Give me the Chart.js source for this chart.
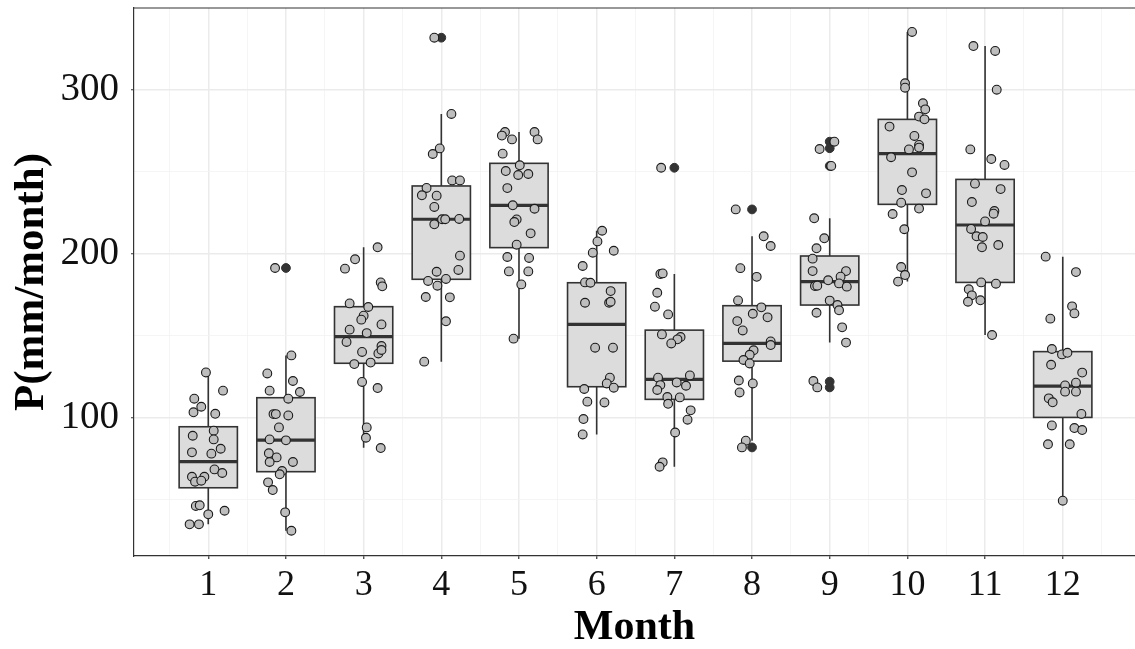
<!DOCTYPE html>
<html>
<head>
<meta charset="utf-8">
<script src="https://cdn.jsdelivr.net/npm/chart.js@4"></script>
<style>
  html, body { margin: 0; padding: 0; background: #fff; }
  #wrap { width: 1135px; height: 649px; }
</style>
</head>
<body>
<div id="wrap"><canvas id="precipChart" width="1135" height="649"></canvas></div>
<script>
// Monthly precipitation, box summaries per month
var months = [1, 2, 3, 4, 5, 6, 7, 8, 9, 10, 11, 12];
var q1 =          [57.3, 67.1, 133.2, 184.4, 203.7, 118.9, 111.2, 134.5, 168.7, 230.1, 182.5, 100.2];
var median =      [73.2, 86.4, 149.4, 221.0, 229.5, 156.9, 123.4, 145.3, 183.0, 261.0, 217.5, 119.3];
var q3 =          [94.5, 112.2, 167.7, 241.3, 255.1, 182.3, 153.4, 168.3, 198.6, 281.9, 245.3, 140.3];
var whiskerLow =  [35.0, 31.1, 81.7, 134.2, 148.2, 89.8, 70.1, 86.0, 145.8, 183.0, 150.4, 49.4];
var whiskerHigh = [127.6, 138.0, 203.9, 285.2, 274.2, 214.0, 187.6, 210.6, 221.6, 335.2, 326.6, 198.2];
var outliers = [[], [191.3], [], [331.7], [], [], [252.4], [227.0, 81.9],
                [268.3, 264.3, 253.5, 122.0, 118.5], [], [], []];

// Individual observations (mm/month) and their horizontal jitter
var precip = [
  [127.6, 116.5, 111.6, 106.7, 103.3, 102.4, 92.1, 89.0, 86.8, 81.1, 78.9, 78.1, 68.5, 66.3, 64.0, 64.0, 61.0, 61.6, 46.2, 46.6, 41.1, 43.3, 35.0, 35.0],
  [191.3, 138.0, 127.0, 122.4, 116.5, 115.7, 111.6, 102.2, 102.2, 101.4, 94.1, 86.8, 86.2, 78.3, 75.8, 73.0, 73.0, 67.5, 65.5, 60.6, 55.9, 42.3, 31.1],
  [203.9, 196.6, 190.9, 182.5, 180.1, 169.7, 167.5, 162.2, 159.8, 156.9, 153.7, 151.6, 146.2, 143.7, 140.1, 139.2, 141.3, 132.7, 133.6, 121.8, 118.1, 94.1, 87.8, 81.5],
  [331.7, 285.2, 264.2, 260.8, 244.7, 244.7, 240.1, 235.6, 235.4, 228.5, 221.0, 221.0, 221.2, 217.9, 198.8, 189.0, 190.1, 183.4, 184.6, 180.5, 173.6, 173.4, 158.8, 134.2],
  [274.2, 272.0, 269.7, 274.2, 269.7, 261.0, 253.9, 250.4, 248.0, 248.6, 240.0, 229.5, 227.4, 220.9, 219.3, 212.4, 205.5, 198.0, 197.4, 189.2, 189.2, 181.3, 148.2],
  [214.0, 207.5, 201.8, 200.6, 192.5, 182.5, 182.3, 177.2, 170.1, 170.1, 170.7, 142.7, 142.7, 124.4, 120.9, 118.3, 117.5, 109.8, 109.3, 99.2, 89.8],
  [252.4, 187.6, 188.0, 176.2, 167.7, 163.0, 150.8, 149.2, 147.8, 145.3, 124.4, 125.8, 121.5, 119.9, 119.5, 116.9, 112.6, 112.4, 108.5, 104.5, 98.8, 91.0, 72.8, 70.1],
  [227.0, 210.6, 204.7, 191.2, 185.9, 171.5, 167.3, 163.4, 161.2, 158.9, 153.2, 146.5, 144.3, 141.1, 138.4, 135.2, 133.1, 122.7, 120.9, 115.4, 86.0, 81.9],
  [263.8, 268.3, 253.5, 221.6, 209.4, 203.3, 197.0, 189.4, 189.4, 186.0, 183.8, 181.9, 179.9, 180.3, 180.5, 171.4, 168.7, 164.0, 165.5, 155.1, 145.8, 122.4, 118.5],
  [335.2, 303.9, 301.2, 291.7, 288.0, 283.6, 281.9, 277.5, 271.8, 266.3, 264.7, 263.6, 258.8, 249.6, 238.8, 236.8, 231.1, 227.5, 224.2, 214.9, 191.9, 187.0, 183.0],
  [326.6, 323.6, 300.0, 263.6, 257.7, 254.1, 242.7, 239.4, 231.5, 226.0, 224.4, 219.7, 215.1, 210.6, 210.2, 205.3, 203.9, 182.5, 181.7, 178.3, 174.6, 170.7, 171.6, 150.4],
  [198.2, 188.8, 167.9, 163.6, 160.4, 141.9, 138.6, 139.6, 132.3, 127.5, 119.7, 121.4, 115.9, 115.9, 111.8, 109.4, 102.3, 95.3, 93.7, 92.5, 83.8, 83.8, 49.4]
];
var jitter = [
  [-0.03, 0.19, -0.18, -0.09, -0.19, 0.09, 0.07, -0.20, 0.07, 0.16, -0.21, 0.04, 0.08, 0.18, -0.21, -0.05, -0.17, -0.09, -0.16, -0.11, 0.00, 0.21, -0.24, -0.12],
  [-0.14, 0.07, -0.24, 0.09, -0.21, 0.18, 0.03, -0.16, -0.13, 0.03, -0.09, -0.21, 0.00, -0.22, -0.12, -0.21, 0.09, -0.05, -0.08, -0.23, -0.17, -0.01, 0.07],
  [0.18, -0.11, -0.24, 0.22, 0.24, -0.18, 0.06, 0.00, -0.03, 0.23, -0.18, 0.04, -0.22, 0.23, -0.02, 0.19, 0.23, -0.12, 0.09, -0.02, 0.18, 0.04, 0.03, 0.22],
  [-0.09, 0.13, -0.02, -0.11, 0.14, 0.24, -0.19, -0.25, -0.06, -0.09, 0.01, 0.05, 0.23, -0.09, 0.24, -0.06, 0.22, -0.17, 0.06, -0.05, -0.20, 0.11, 0.06, -0.22],
  [-0.18, -0.22, -0.09, 0.20, 0.24, -0.21, 0.01, -0.17, -0.01, 0.12, -0.15, -0.08, 0.20, -0.03, -0.06, 0.15, -0.03, -0.15, 0.13, -0.13, 0.12, 0.03, -0.07],
  [0.07, 0.01, 0.22, -0.05, -0.18, -0.15, -0.08, 0.18, -0.15, 0.16, 0.18, -0.02, 0.21, 0.17, 0.13, 0.22, -0.16, -0.12, 0.10, -0.17, -0.18],
  [-0.17, -0.18, -0.15, -0.22, -0.25, -0.08, -0.16, 0.08, 0.04, -0.04, -0.21, 0.20, 0.03, -0.18, 0.15, -0.22, -0.09, 0.07, -0.08, 0.21, 0.17, 0.01, -0.15, -0.19],
  [-0.21, 0.15, 0.24, -0.15, 0.06, -0.18, 0.12, 0.01, 0.20, -0.19, -0.12, 0.24, 0.24, 0.02, -0.03, -0.11, -0.03, -0.17, 0.01, -0.16, -0.08, -0.13],
  [-0.13, 0.06, 0.02, -0.20, -0.07, -0.17, -0.22, -0.22, 0.21, 0.14, -0.02, 0.12, 0.22, -0.19, -0.16, 0.00, 0.10, -0.17, 0.12, 0.16, 0.21, -0.21, -0.16],
  [0.06, -0.03, -0.03, 0.20, 0.23, 0.15, 0.22, -0.23, 0.09, 0.15, 0.15, 0.02, -0.21, 0.06, -0.07, 0.24, -0.08, 0.15, -0.19, -0.04, -0.08, -0.03, -0.12],
  [-0.15, 0.13, 0.15, -0.19, 0.08, 0.25, -0.13, 0.20, -0.17, 0.12, 0.11, 0.00, -0.18, -0.11, -0.03, 0.17, -0.04, -0.05, 0.14, -0.21, -0.17, -0.22, -0.06, 0.09],
  [-0.22, 0.17, 0.12, 0.15, -0.16, -0.14, -0.01, 0.06, -0.15, 0.25, 0.03, 0.17, 0.03, 0.17, -0.18, -0.13, 0.24, -0.14, 0.15, 0.25, -0.19, 0.09, 0.00]
];
var xTicks = [0.5, 1, 1.5, 2, 2.5, 3, 3.5, 4, 4.5, 5, 5.5, 6, 6.5, 7, 7.5, 8, 8.5, 9, 9.5, 10, 10.5, 11, 11.5, 12, 12.5];
var yTicks = [50, 100, 150, 200, 250, 300];

var serif = "'Liberation Serif', 'Times New Roman', serif";
var boxHalf = 0.375;

var obsPoints = [];
months.forEach(function(m, i) {
    precip[i].forEach(function(v, j) {
        obsPoints.push({ x: m + jitter[i][j], y: v });
    });
});
var outlierPoints = [];
months.forEach(function(m, i) {
    outliers[i].forEach(function(v) { outlierPoints.push({ x: m, y: v }); });
});

// Boxes, whiskers and medians under the points
var boxPlugin = {
    id: 'boxes',
    beforeDatasetsDraw: function(chart) {
        var ctx = chart.ctx, x = chart.scales.x, y = chart.scales.y;
        ctx.save();
        ctx.strokeStyle = '#333333';
        months.forEach(function(m, i) {
            var cx = x.getPixelForValue(m);
            var l = x.getPixelForValue(m - boxHalf), r = x.getPixelForValue(m + boxHalf);
            var top = y.getPixelForValue(q3[i]), bot = y.getPixelForValue(q1[i]);
            ctx.lineWidth = 1.6;
            ctx.beginPath();
            ctx.moveTo(cx, y.getPixelForValue(whiskerHigh[i]));
            ctx.lineTo(cx, top);
            ctx.moveTo(cx, bot);
            ctx.lineTo(cx, y.getPixelForValue(whiskerLow[i]));
            ctx.stroke();
            ctx.fillStyle = '#DCDCDC';
            ctx.fillRect(l, top, r - l, bot - top);
            ctx.strokeRect(l, top, r - l, bot - top);
            var my = y.getPixelForValue(median[i]);
            ctx.lineWidth = 3.2;
            ctx.beginPath();
            ctx.moveTo(l, my);
            ctx.lineTo(r, my);
            ctx.stroke();
        });
        ctx.restore();
    },
    afterDraw: function(chart) {
        // panel top edge
        var ctx = chart.ctx, a = chart.chartArea;
        ctx.save();
        ctx.strokeStyle = '#333333';
        ctx.lineWidth = 1.2;
        ctx.beginPath();
        ctx.moveTo(a.left, a.top);
        ctx.lineTo(a.right, a.top);
        ctx.stroke();
        ctx.restore();
    }
};

function isMajor(v) { return Number.isInteger(v); }

new Chart(document.getElementById('precipChart'), {
    type: 'scatter',
    data: {
        datasets: [
            {
                label: 'obs',
                data: obsPoints,
                pointRadius: 4.4,
                pointBackgroundColor: '#BEBEBE',
                pointBorderColor: '#1A1A1A',
                pointBorderWidth: 1.1
            },
            {
                label: 'outliers',
                data: outlierPoints,
                pointRadius: 4.4,
                pointBackgroundColor: '#333333',
                pointBorderColor: '#333333',
                pointBorderWidth: 1
            }
        ]
    },
    options: {
        responsive: false,
        animation: false,
        devicePixelRatio: 1,
        layout: { autoPadding: false, padding: { top: 8, right: 0, left: 0, bottom: 0 } },
        plugins: { legend: { display: false }, tooltip: { enabled: false } },
        scales: {
            x: {
                type: 'linear',
                min: 0.044,
                max: 12.93,
                afterBuildTicks: function(s) { s.ticks = xTicks.map(function(v) { return { value: v }; }); },
                afterFit: function(s) { s.height = 93; s.paddingLeft = 0; s.paddingRight = 0; },
                ticks: {
                    autoSkip: false, maxRotation: 0, padding: 5, color: '#111',
                    font: { family: serif, size: 36 },
                    callback: function(v) { return isMajor(v) ? String(v) : ''; }
                },
                grid: {
                    color: function(c) { return isMajor(c.tick.value) ? '#EBEBEB' : '#F3F3F3'; },
                    lineWidth: function(c) { return isMajor(c.tick.value) ? 1.5 : 0.8; },
                    tickColor: function(c) { return isMajor(c.tick.value) ? '#333333' : 'rgba(0,0,0,0)'; },
                    tickLength: 3,
                    tickWidth: 1.2
                },
                border: { display: true, color: '#333333', width: 1.2 },
                title: {
                    display: true, text: 'Month', color: '#000', padding: 0,
                    font: { family: serif, size: 42, weight: 'bold', lineHeight: 1 }
                }
            },
            y: {
                min: 15.7,
                max: 349.8,
                afterBuildTicks: function(s) { s.ticks = yTicks.map(function(v) { return { value: v }; }); },
                afterFit: function(s) { s.width = 134; s.paddingTop = 0; s.paddingBottom = 0; },
                ticks: {
                    padding: 12, color: '#111',
                    font: { family: serif, size: 39 },
                    callback: function(v) { return v % 100 === 0 ? String(v) : ''; }
                },
                grid: {
                    color: function(c) { return c.tick.value % 100 === 0 ? '#EBEBEB' : '#F3F3F3'; },
                    lineWidth: function(c) { return c.tick.value % 100 === 0 ? 1.5 : 0.8; },
                    tickColor: function(c) { return c.tick.value % 100 === 0 ? '#333333' : 'rgba(0,0,0,0)'; },
                    tickLength: 3,
                    tickWidth: 1.2
                },
                border: { display: true, color: '#333333', width: 1.2 },
                title: {
                    display: true, text: 'P(mm/month)', color: '#000', padding: { top: 6 },
                    font: { family: serif, size: 43, weight: 'bold', lineHeight: 1.2 }
                }
            }
        }
    },
    plugins: [boxPlugin]
});
</script>
</body>
</html>
